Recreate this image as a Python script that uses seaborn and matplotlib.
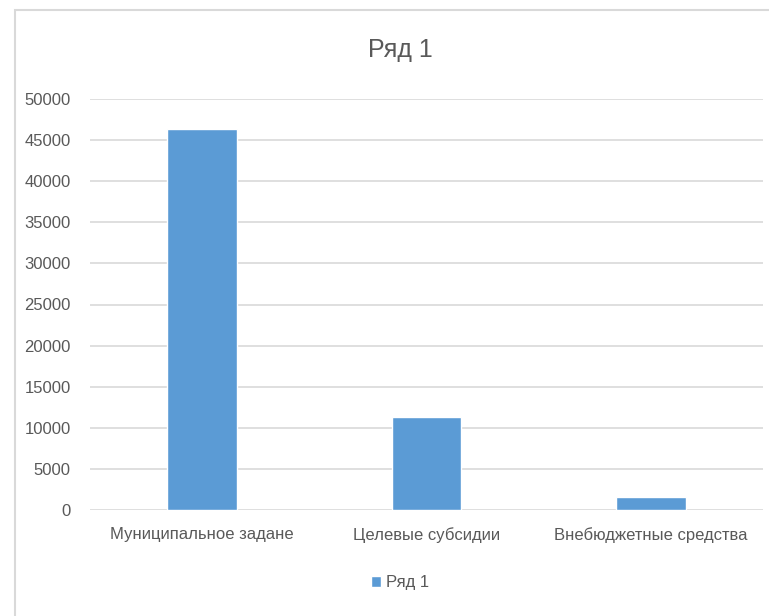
import matplotlib
matplotlib.use("Agg")
import matplotlib.pyplot as plt
import seaborn as sns
import pandas as pd
from matplotlib.patches import Rectangle, Patch

# chart data
categories = ["Муниципальное задане", "Целевые субсидии", "Внебюджетные средства"]
values = [46300, 11350, 1600]
series_name = "Ряд 1"
yticks = list(range(0, 50001, 5000))

df = pd.DataFrame({"cat": categories, "val": values})

sns.set_theme(style="white")
plt.rcParams["font.family"] = ["Liberation Sans Narrow", "Liberation Sans", "DejaVu Sans"]

text_color = "#595959"
grid_color = "#d9d9d9"
bar_color = "#5B9BD5"

fig = plt.figure(figsize=(7.69, 6.16), dpi=100)
ax = fig.add_axes([90 / 769, 1 - 510 / 616, (763 - 90) / 769, (510 - 99) / 616])

sns.barplot(data=df, x="cat", y="val", color=bar_color, width=0.31,
            saturation=1, ax=ax, zorder=3)

ax.set_ylim(0, 50000)
ax.set_yticks(yticks)
ax.set_yticklabels([str(t) for t in yticks])
ax.yaxis.grid(True, color=grid_color, linewidth=1.2, zorder=0)
ax.set_axisbelow(True)
for s in ax.spines.values():
    s.set_visible(False)
ax.set_xlabel("")
ax.set_ylabel("")
ax.tick_params(axis="both", length=0, colors=text_color, labelsize=12)
ax.tick_params(axis="y", pad=14)
ax.tick_params(axis="x", pad=12)

fig.text(400 / 769, 1 - 50 / 616, series_name, ha="center", va="center",
         fontsize=18, color=text_color)

fig.legend(handles=[Patch(facecolor=bar_color, label=series_name)],
           loc="center", bbox_to_anchor=(400 / 769, 1 - 583 / 616),
           frameon=False, fontsize=12, handlelength=0.6, handleheight=0.6,
           handletextpad=0.3, labelcolor=text_color)

# chart area border (Excel style)
fig.patches.append(Rectangle((15 / 769, -0.1), 1.2, 1 - 10 / 616 + 0.1,
                             transform=fig.transFigure, fill=False,
                             edgecolor=grid_color, linewidth=1.5))

fig.savefig("out.png", dpi=100)
